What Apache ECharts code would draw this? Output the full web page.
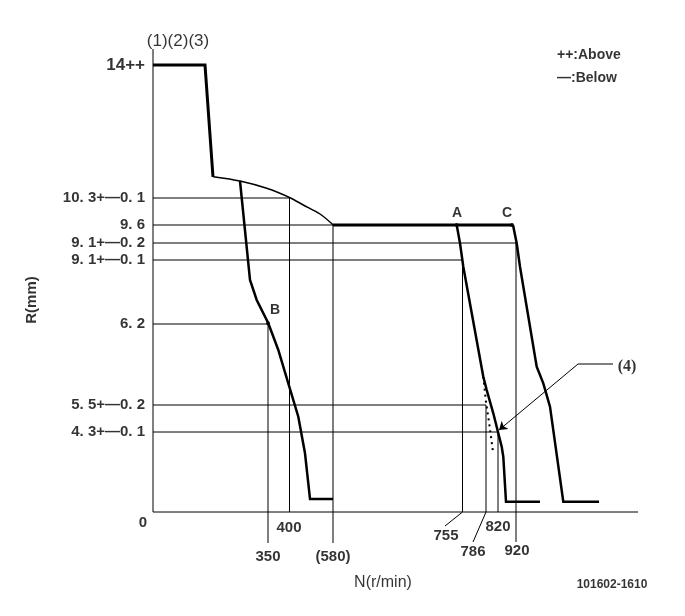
<!DOCTYPE html>
<html><head><meta charset="utf-8">
<script src="https://cdn.jsdelivr.net/npm/echarts@6/dist/echarts.min.js"></script>
<style>html,body{margin:0;padding:0;background:#fff}#c{width:685px;height:616px}</style>
</head><body><div id="c"></div>
<script>
// Schematic diagram coordinates (x: N position, y: R position), diagram units
const yTickLabels = ['14++', '10. 3+—0. 1', '9. 6', '9. 1+—0. 2', '9. 1+—0. 1', '6. 2', '5. 5+—0. 2', '4. 3+—0. 1'];
const yTickLevels = [447, 314, 287, 269, 252, 188, 107, 80];
const yGuideEnds = [0, 137, 180, 363, 310, 115, 333, 345];

const xTickLabels = ['350', '400', '(580)', '755', '786', '820', '920'];
const xTickLevels = [115, 136.5, 180, 309.5, 333, 345, 363];
const xGuideTops = [188, 314, 287, 252, 107, 80, 269];
const xGuideBottoms = [-31, 0, -31, 0, 0, 0, -30];
const xLabelAnchors = [[115, -45], [136, -16], [180, -45], [293, -24], [320, -40], [345, -15], [364, -39]];
const xLeaders = [[[309.5, 0], [292, -14]], [[333, 0], [320, -30]]];

const fullLoad = [[0, 447], [52, 447], [60, 335]];
const torqueArc = [[60.3, 335.3], [87, 331], [113.7, 323.7], [137, 314.3], [150.3, 307], [167, 298], [180.3, 287]];
const idleDrop = [[87, 331], [97, 232], [103.7, 212], [115.3, 188.7], [125.3, 162], [135.3, 128.7], [145.3, 95.3], [152, 58.7], [157, 13], [180, 13]];
const ratedFlat = [[180, 287], [360, 287]];
const curveA = [[303.7, 287], [307, 268.7], [310.3, 245.3], [330.3, 135.3], [333.7, 122], [340.3, 98.7], [345.3, 78.7], [348.7, 65.3], [350.3, 55.3], [353, 10.3], [387, 10.3]];
const curveC = [[360, 287], [362, 285.3], [363.7, 268.7], [367, 245.3], [383.7, 145.3], [390.3, 128.7], [397, 105.3], [410.3, 10.3], [446, 10.3]];
const dottedCurve = [[330.3, 135.3], [333, 110], [336, 90], [340, 60]];
const pointB = [115, 188.7];
const pointA = [303.7, 287];
const pointC = [359, 287];
const calloutLine = [[460, 148], [425, 148]];
const calloutArrow = [[425, 148], [346, 82]];

const axisX = [[0, 0], [485, 0]];
const axisY = [[0, 0], [0, 463]];

const FONT = '"Liberation Sans", Arial, sans-serif';
const SERIF = '"Liberation Serif", "Times New Roman", serif';

function lineSeries(data, width, dash, smooth) {
  return {
    type: 'line', data: data, symbol: 'none', silent: true, animation: false, clip: false,
    smooth: smooth || false,
    lineStyle: { color: '#000', width: width, type: dash || 'solid', cap: 'butt', join: 'miter' }
  };
}

const series = [];
series.push(lineSeries(axisX, 1));
series.push(lineSeries(axisY, 1));
yTickLevels.forEach((v, i) => {
  if (yGuideEnds[i] > 0) series.push(lineSeries([[0, v], [yGuideEnds[i], v]], 1));
});
xTickLevels.forEach((v, i) => {
  series.push(lineSeries([[v, xGuideTops[i]], [v, xGuideBottoms[i]]], 1));
});
xLeaders.forEach(l => series.push(lineSeries(l, 1)));
series.push(lineSeries(fullLoad, 3));
series.push(lineSeries(torqueArc, 1.5, null, 0.3));
series.push(lineSeries(idleDrop, 2.5));
series.push(lineSeries(ratedFlat, 3));
series.push(lineSeries(curveA, 2.5));
series.push(lineSeries(curveC, 2.5));
series.push(lineSeries(dottedCurve, 2, [2, 4]));
series.push(lineSeries(calloutLine, 1));
series.push({
  type: 'lines', coordinateSystem: 'cartesian2d', silent: true, animation: false,
  symbol: ['none', 'arrow'], symbolSize: 8,
  lineStyle: { color: '#000', width: 1, opacity: 1 },
  data: [{ coords: calloutArrow }]
});
series.push({
  type: 'scatter', silent: true, animation: false, symbolSize: 4,
  itemStyle: { color: '#000' }, data: [pointB, pointA, pointC]
});

function txt(x, y, text, opts) {
  return {
    value: [x, y],
    label: Object.assign({
      show: true, formatter: text, position: 'inside', color: '#000',
      fontSize: 15, fontWeight: 'bold', fontFamily: FONT
    }, opts || {})
  };
}

const texts = [];
yTickLabels.forEach((t, i) => texts.push(txt(0, yTickLevels[i], t,
  i === 0 ? { position: 'left', distance: 8, fontSize: 17 } : { position: 'left', distance: 8 })));
xTickLabels.forEach((t, i) => texts.push(txt(xLabelAnchors[i][0], xLabelAnchors[i][1], t)));
texts.push(txt(-10, -11, '0'));
texts.push(txt(25, 471, '(1)(2)(3)', { fontSize: 17, fontWeight: 'normal' }));
texts.push(txt(-121, 212, 'R(mm)', { rotate: 90 }));
texts.push(txt(230, -71, 'N(r/min)', { fontWeight: 'normal', fontSize: 16 }));
texts.push(txt(459, -73, '101602-1610', { fontSize: 12 }));
texts.push(txt(404, 457, '++:Above', { position: 'right', distance: 0, fontSize: 14 }));
texts.push(txt(404, 434, '—:Below', { position: 'right', distance: 0, fontSize: 14 }));
texts.push(txt(474, 145, '(4)', { fontFamily: SERIF, fontSize: 16 }));
texts.push(txt(304, 299, 'A', { fontSize: 14 }));
texts.push(txt(354, 299, 'C', { fontSize: 14 }));
texts.push(txt(122, 202, 'B', { fontSize: 14 }));

series.push({
  type: 'scatter', silent: true, animation: false, symbolSize: 0,
  itemStyle: { color: 'transparent' }, data: texts
});

const chart = echarts.init(document.getElementById('c'));
chart.setOption({
  backgroundColor: '#fff',
  animation: false,
  grid: { left: 0, right: 0, top: 0, bottom: 0 },
  xAxis: { type: 'value', min: -153, max: 532, show: false },
  yAxis: { type: 'value', min: -104, max: 512, show: false },
  series: series
});
</script>
</body></html>
